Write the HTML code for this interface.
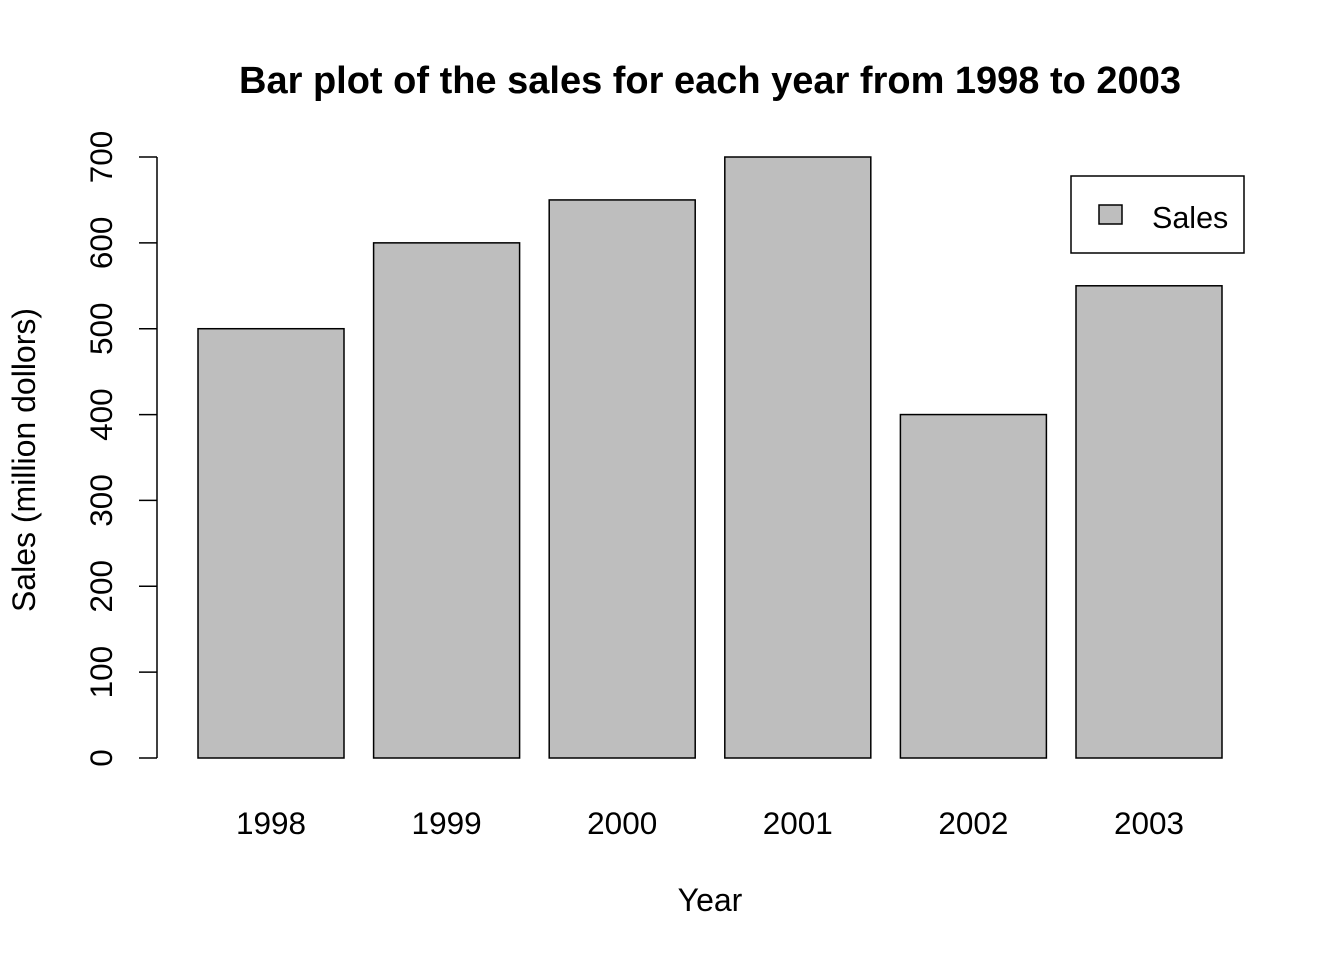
<!DOCTYPE html>
<html><head><meta charset="utf-8"><style>
body{margin:0;background:#fff}
svg{display:block;font-family:"Liberation Sans",Arial,sans-serif}
</style></head><body>
<svg id="chart" width="1344" height="960" viewBox="0 0 1344 960">
<rect width="1344" height="960" fill="#fff"/>
<text x="710" y="93" text-anchor="middle" font-size="38" font-weight="bold">Bar plot of the sales for each year from 1998 to 2003</text>
<text x="710" y="911" text-anchor="middle" font-size="32">Year</text>
<text transform="translate(35,460) rotate(-90)" text-anchor="middle" font-size="32">Sales (million dollors)</text>
<g id="bars"></g><g id="yaxis"></g><g id="xlabels"></g>
<g>
<rect x="1071" y="176" width="173" height="77" fill="#fff" stroke="#000" stroke-width="1.5"/>
<rect x="1099" y="205" width="23" height="19" fill="#bebebe" stroke="#000" stroke-width="1.5"/>
<text x="1152" y="228" font-size="30.5">Sales</text>
</g>
</svg>
<script>
const categories=["1998","1999","2000","2001","2002","2003"];
const sales=[500,600,650,700,400,550];
const yTicks=[0,100,200,300,400,500,600,700];
const NS="http://www.w3.org/2000/svg";
const y0=758,pxPer=601/700;
function yScale(v){return y0-v*pxPer;}
function xLeft(i){return 198+i*175.6;}
const bw=146;
function mk(t,a,p){const e=document.createElementNS(NS,t);for(const k in a)e.setAttribute(k,a[k]);p.appendChild(e);return e;}
const bars=document.getElementById('bars');
sales.forEach((v,i)=>{
const r=mk('rect',{x:xLeft(i),y:yScale(v),width:bw,height:y0-yScale(v),fill:'#bebebe',stroke:'#000','stroke-width':1.5},bars);


});
const xl=document.getElementById('xlabels');
categories.forEach((c,i)=>{
const t=mk('text',{x:xLeft(i)+bw/2,y:834,'text-anchor':'middle','font-size':31.5},xl);t.textContent=c;


});
const ya=document.getElementById('yaxis');
const ln=mk('line',{x1:157,x2:157,y1:yScale(yTicks[0]),y2:yScale(yTicks[yTicks.length-1]),stroke:'#000','stroke-width':1.5},ya);


yTicks.forEach(v=>{
const y=yScale(v);
const tk=mk('line',{x1:139,x2:157,y1:y,y2:y,stroke:'#000','stroke-width':1.5},ya);


const t=mk('text',{transform:`translate(112,${y}) rotate(-90)`,'text-anchor':'middle','font-size':31.5},ya);t.textContent=v;


});
</script>
</body></html>
